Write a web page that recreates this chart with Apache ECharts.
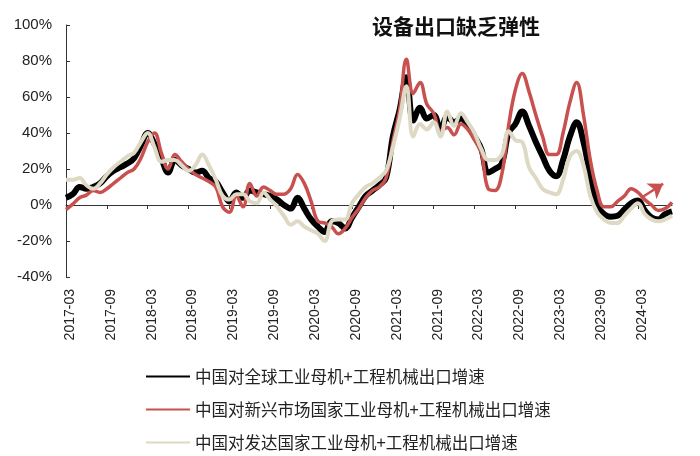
<!DOCTYPE html>
<html>
<head>
<meta charset="utf-8">
<script src="https://cdn.jsdelivr.net/npm/echarts@6/dist/echarts.min.js"></script>
<style>html,body{margin:0;padding:0;background:#fff;}#c{width:700px;height:456px;}</style>
</head>
<body>
<div id="c"></div>
<script>
// Categories: monthly 2017-03 .. 2024-08
const months = [];
for (let y = 2017, m = 3; !(y === 2024 && m === 9); ) {
  months.push(y + '-' + (m < 10 ? '0' + m : '' + m));
  m++; if (m > 12) { m = 1; y++; }
}
const yTicks = [-40, -20, 0, 20, 40, 60, 80, 100];
const seriesNames = [
  '中国对全球工业母机+工程机械出口增速',
  '中国对新兴市场国家工业母机+工程机械出口增速',
  '中国对发达国家工业母机+工程机械出口增速'
];
const globalGrowth = [
  4, 6, 10, 9, 10, 12, 16, 19, 21, 23,
  26, 33, 40, 34, 26, 18, 25, 22, 20, 18,
  19, 15, 13, 7, 2, 7, 4, 8, 7, 6,
  5, 3, 0, -2, 4, -2, -8, -12, -15, -9,
  -10, -13, -7, -1, 5, 8, 11, 15, 38, 53,
  71, 47, 54, 48, 50, 42, 49, 46, 48, 44,
  38, 31, 18, 20, 23, 40, 45, 52, 44, 35,
  27, 19, 16, 25, 38, 46, 35, 16, 0, -5,
  -6.5, -6, -2.5, 1, 2.5, -3, -7, -8, -5, -3.5
];
const emergingGrowth = [
  -2.5, 0.5, 4, 5.5, 8, 7, 9, 12, 15, 18,
  20, 26, 35, 40, 29, 20, 28, 24, 20, 17,
  15, 13, 10, -1, -4, 5, -1, 12, 5, 10,
  8, 6, 6, 9, 17, 12, 2, -9, -10, -12,
  -16, -13, -7, -2, 4, 8, 10, 15, 35, 53,
  81, 62, 68, 56, 51, 41, 43, 39, 45, 42,
  36, 29, 9, 8, 17, 44, 64, 73, 63, 50,
  38, 28, 28, 40, 57, 68, 50, 25, 8, -1,
  -1, 2, 5, 9, 7, 3, 0, -3, -2, 1.5
];
const developedGrowth = [
  14, 14, 15, 11, 9, 12, 17, 21, 24, 27,
  29, 35, 40, 32, 24, 25, 25, 22, 19, 22,
  28, 22, 14, 5, 3, 6, 6, 2, 1, 7,
  3, -1, -6, -11, -9, -12, -14, -16, -20, -9,
  -8, -8, 1, 6, 10, 12, 15, 19, 32, 48,
  66, 38, 45, 42, 46, 38, 52, 44, 51, 46,
  40, 31, 25, 25, 28, 41, 36, 35, 21, 15,
  9, 7, 6, 14, 27, 30, 22, 5, -4, -8,
  -10, -10, -6, -2, 1, -5, -8, -9, -8, -6
];
// annotation arrow (month index, %)
const arrowStart = [84.5, 4];
const arrowEnd = [87.7, 11.8];

const chart = echarts.init(document.getElementById('c'), null, {renderer: 'canvas'});
const cjk = '"Noto Sans CJK SC", "Microsoft YaHei", sans-serif';
const lat = '"Liberation Sans", Arial, sans-serif';
chart.setOption({
  backgroundColor: '#ffffff',
  animation: false,
  title: {
    text: '设备出口缺乏弹性',
    left: 372, top: 16, padding: 0,
    textStyle: {fontFamily: cjk, fontSize: 21, fontWeight: 'bold', color: '#111'}
  },
  legend: {
    orient: 'vertical',
    left: 145, top: 368, padding: 0, height: 88,
    itemWidth: 44, itemHeight: 16, itemGap: 16,
    data: seriesNames,
    itemStyle: {color: 'rgba(0,0,0,0)', borderWidth: 0, opacity: 0},
    textStyle: {fontFamily: cjk, fontSize: 16.5, lineHeight: 17, color: '#222'}
  },
  grid: {left: 66, right: 28, top: 25, bottom: 179, containLabel: false},
  xAxis: [
    {
      type: 'category', data: months, boundaryGap: false, position: 'bottom',
      axisLine: {show: false, onZero: false},
      axisTick: {show: false},
      axisLabel: {interval: 5, rotate: 90, margin: 12, fontFamily: lat, fontSize: 14, color: '#222',
                  verticalAlign: 'top', lineHeight: 8},
      splitLine: {show: false}
    },
    {
      type: 'category', data: months, boundaryGap: false, position: 'bottom',
      axisLine: {show: true, onZero: true, lineStyle: {color: '#333', width: 1}},
      axisTick: {show: true, interval: 5, length: 4, inside: false, lineStyle: {color: '#333'}},
      axisLabel: {show: false},
      splitLine: {show: false}
    },
    {
      type: 'value', min: 0, max: months.length - 1, show: false
    }
  ],
  yAxis: {
    type: 'value', min: yTicks[0], max: yTicks[yTicks.length - 1], interval: 20,
    axisLine: {show: true, lineStyle: {color: '#333', width: 1}},
    axisTick: {show: true, inside: true, length: 4, lineStyle: {color: '#333'}},
    axisLabel: {formatter: '{value}%', fontFamily: lat, fontSize: 15, color: '#222', margin: 14},
    splitLine: {show: false}
  },
  series: [
    {
      name: seriesNames[0], type: 'line', data: globalGrowth, xAxisIndex: 0,
      smooth: 0.4, symbol: 'none',
      lineStyle: {color: '#000000', width: 6}, itemStyle: {color: '#000000'}, z: 2
    },
    {
      name: seriesNames[1], type: 'line', data: emergingGrowth, xAxisIndex: 0,
      smooth: 0.4, symbol: 'none',
      lineStyle: {color: '#C8504F', width: 3.5}, itemStyle: {color: '#C8504F'}, z: 3
    },
    {
      name: seriesNames[2], type: 'line', data: developedGrowth, xAxisIndex: 0,
      smooth: 0.4, symbol: 'none',
      lineStyle: {color: '#DDD9C4', width: 4}, itemStyle: {color: '#DDD9C4'}, z: 4
    },
    {
      name: 'arrow', type: 'line', xAxisIndex: 2, data: [arrowStart, arrowEnd],
      symbol: 'none', lineStyle: {opacity: 0}, silent: true, z: 5,
      markLine: {
        silent: true, animation: false,
        symbol: ['none', 'arrow'], symbolSize: 14,
        label: {show: false},
        itemStyle: {color: '#C8504F'},
        lineStyle: {color: '#C8504F', width: 2.5, type: 'solid', opacity: 1},
        data: [[{coord: arrowStart}, {coord: arrowEnd}]]
      }
    }
  ]
});
</script>
</body>
</html>
